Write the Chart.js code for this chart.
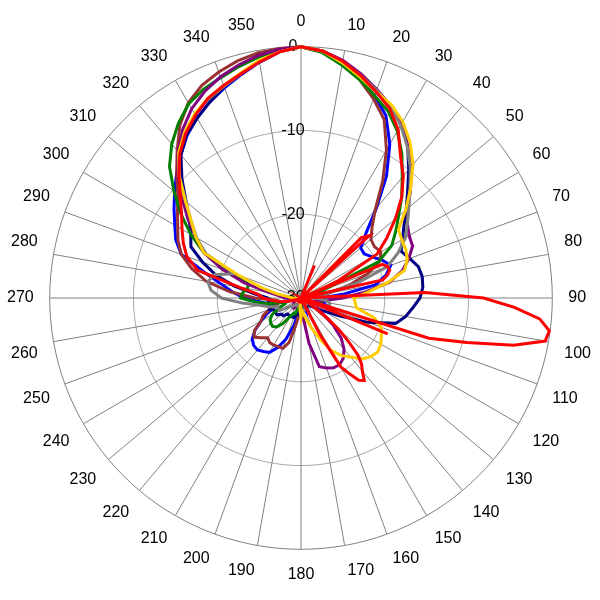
<!DOCTYPE html>
<html>
<head>
<meta charset="utf-8">
<script src="https://cdn.jsdelivr.net/npm/chart.js@4.4.0/dist/chart.umd.min.js"></script>
<style>
  html, body { margin: 0; padding: 0; background: #fff; }
</style>
</head>
<body>
<canvas id="pattern" width="600" height="600"></canvas>
<script>
// 2.5 degree steps, labels shown every 10 degrees
const angles = Array.from({length: 144}, (_, i) => i * 2.5);

// gain in dB, one value every 5 degrees (0..355)
const navy = [
  0, -0.4, -1.3, -2.4, -3.6, -4.7, -5.9, -7.8, -10, -12, -13.6, -15,
  -16, -16.8, -16.2, -15.5, -15.3, -15.4, -15.8, -16.6, -17.3, -18.3, -21.5, -25,
  -27, -28, -28.5, -29, -29, -29, -28.5, -29, -29, -29, -29, -29,
  -29, -28.5, -28, -28, -27.5, -27.5, -27.5, -27.5, -27.5, -27, -27, -26.5,
  -26.5, -26.5, -26, -26.5, -25.5, -26.5, -26, -24.5, -22, -19.5, -17.5, -15.5,
  -14.8, -13.7, -12.1, -9.9, -7.7, -6.2, -5.2, -4.2, -3.2, -2.3, -1.4, -0.5
];
const blue = [
  0, -0.5, -1.5, -2.8, -4.3, -6, -8.8, -12.2, -16, -19, -20.7, -20.8,
  -20.2, -19.3, -18.6, -19.5, -21, -25, -27.5, -28, -27.5, -27, -27.5, -28,
  -28.5, -29, -29, -29, -29, -29, -29, -29, -28.5, -29, -29, -29,
  -28.5, -28.5, -28, -26.5, -24.8, -23.5, -22.5, -22.2, -21.9, -22, -22.4, -23.3,
  -24.5, -25.5, -26.5, -27, -26, -25, -23.2, -21.8, -20.3, -18, -14.8, -13.5,
  -12.6, -11.5, -10.3, -9.0, -7.7, -6.3, -5.2, -4.2, -3.3, -2.4, -1.4, -0.5
];
const brown = [
  0, -0.5, -1.6, -3, -4.7, -6.5, -9.6, -13, -16.2, -18, -19.1, -19.3,
  -19, -19.6, -21.5, -24, -26.5, -28, -29, -29, -29, -29, -29, -29,
  -29, -29, -29, -29, -29, -29, -29, -29, -29, -29, -29, -29,
  -29, -28.5, -27, -24.5, -23.6, -23.6, -23.5, -23.5, -23.8, -23.3, -22.7, -23.2,
  -24.5, -25, -26, -27, -27.5, -27, -24.5, -21.5, -18.5, -16.5, -14.8, -13.8,
  -13, -12, -10.8, -9, -7, -4.8, -3.1, -2.0, -1.3, -0.7, -0.3, -0.1
];
const green = [
  0, -0.6, -1.8, -3, -4.3, -5.4, -7, -9, -11.2, -13, -14.8, -16.2,
  -17.5, -19.8, -27, -28, -28.5, -28.5, -28, -27.5, -27.5, -28, -29, -29,
  -29, -29, -29, -29, -29, -29, -29, -29, -29, -29, -29, -29,
  -29, -29, -29, -29, -28, -28, -27.5, -26.3, -25.5, -25.2, -25.3, -25.5,
  -26, -27, -28, -28, -26, -24.5, -22.8, -23, -23.5, -23.5, -20.5, -17.2,
  -14.8, -12.5, -10.2, -7.8, -6, -4.5, -3.2, -2.5, -2.0, -1.4, -0.8, -0.3
];
const purple = [
  0, -0.4, -1.2, -2.3, -3.5, -4.7, -6.1, -7.8, -9.6, -11.5, -13.3, -14.5,
  -15.1, -15.3, -16.3, -17.5, -19.3, -22.5, -25, -27, -28, -28.5, -28.5, -28.5,
  -28.5, -27, -25, -23.2, -22, -21.2, -20.8, -20.8, -21.1, -21.5, -24.5, -28,
  -29, -29, -29, -29, -29, -29, -29, -28.5, -28.5, -28.5, -29, -29,
  -29, -29, -29, -29, -29, -29, -28, -27.5, -26, -23, -20, -17.2,
  -15.5, -13.5, -11.5, -9.2, -7.2, -5.4, -3.9, -2.8, -1.9, -1.2, -0.6, -0.2
];
const gray = [
  0, -0.4, -1.4, -2.5, -3.6, -4.8, -6.2, -7.9, -9.7, -11.6, -13.2, -14.5,
  -15.6, -17.2, -19, -23, -27, -28, -28.5, -27, -26.5, -26.5, -27, -28,
  -29, -29, -29, -29, -29, -29, -29, -29, -28.5, -28.5, -28.5, -28.5,
  -28.5, -29, -29, -29, -29, -29, -29, -29, -29, -28.5, -28.5, -28,
  -27, -27, -27, -26, -25, -23, -20.5, -19.2, -18.7, -19.3, -21.5, -17.5,
  -15.6, -14, -12, -9.5, -7.4, -5.9, -4.7, -3.8, -3.1, -2.3, -1.3, -0.5
];
const yellow = [
  0, -0.4, -1.5, -2.7, -3.8, -4.5, -5.7, -7.3, -9.2, -11.5, -13.7, -15.8,
  -16.1, -16.2, -16.5, -17.2, -19.5, -22, -23.7, -23.5, -23.3, -21, -19.8, -19.4,
  -19, -18.8, -19.1, -19.7, -20.8, -21.6, -22.8, -24.5, -26, -27.2, -28, -28.5,
  -27.7, -28.5, -29.5, -29.5, -29.5, -29.5, -29.5, -29.5, -29.5, -29.5, -29.5, -29.5,
  -29.5, -29.5, -29.5, -29.5, -29.5, -29.5, -29, -28.5, -27, -25, -22, -17.2,
  -15.5, -14, -12, -9.4, -7.3, -5.8, -4.6, -3.7, -3.0, -2.2, -1.2, -0.5
];
const red = [
  0, -0.4, -1.3, -2.5, -3.8, -5, -6.8, -9.3, -11, -13, -15.3, -17.5,
  -19.5, -25, -29, -29.5, -29.5, -29.5, -29.5, -29.5, -29.5, -29.5, -29.5, -29.5,
  -29.5, -29.5, -29.5, -29.5, -29.5, -29.5, -29.5, -29.5, -29.5, -29.5, -29.5, -29.5,
  -29.5, -29.5, -29.5, -29.5, -29.5, -29.5, -29.5, -29.5, -29.5, -29.5, -29.5, -29.5,
  -29.5, -29.5, -29.5, -28.5, -27.5, -26.5, -25.5, -24.8, -22.5, -17.2, -15.5, -14.5,
  -13.6, -12.6, -11.2, -9.4, -7.5, -6, -4.8, -3.7, -3.0, -2.3, -1.4, -0.5
];
// second red trace, one value every 2.5 degrees (0..357.5)
const redSide = [
  -30, -30, -30, -30, -30, -30, -30, -30, -30, -25.8, -30, -30,
  -30, -30, -30, -30, -30, -30, -19.8, -19, -30, -30, -30, -30,
  -30, -30, -30, -19.5, -19, -18.9, -19.3, -20, -30, -30, -30, -15.2,
  -8.2, -4.5, -1.4, -0.1, -0.4, -4, -9.5, -14, -30, -18.8, -30, -30,
  -30, -30, -28, -26, -24, -22.3, -20.4, -19.3, -18.6, -17.6, -18, -19.3,
  -20.5, -25, -30, -30, -30, -30, -30, -30, -30, -30, -30, -30,
  -30, -30, -30, -30, -30, -30, -30, -30, -30, -30, -30, -30,
  -30, -30, -30, -30, -30, -30, -30, -30, -30, -30, -30, -30,
  -30, -30, -30, -30, -30, -30, -30, -30, -30, -30, -30, -30,
  -30, -30, -30, -30, -30, -30, -30, -30, -30, -30, -30, -30,
  -30, -30, -30, -30, -30, -30, -30, -30, -30, -30, -30, -30,
  -30, -30, -30, -30, -30, -30, -30, -30, -30, -30, -30, -30
];

// put a coarse series on the 2.5 degree grid, gaps are bridged by spanGaps
function spread(values) {
  const step = angles.length / values.length;
  const out = [];
  values.forEach(v => {
    out.push(v);
    for (let k = 1; k < step; k++) out.push(null);
  });
  return out;
}

function trace(data, color) {
  return {
    data: data.length === angles.length ? data : spread(data),
    borderColor: color,
    backgroundColor: color,
    borderWidth: 3,
    pointRadius: 0,
    fill: false,
    spanGaps: true,
    tension: 0
  };
}

const font = {family: "'Liberation Sans', Arial, sans-serif", size: 16};

new Chart(document.getElementById('pattern'), {
  type: 'radar',
  data: {
    labels: angles,
    datasets: [
      trace(redSide, '#ff0000'),
      trace(red, '#ff0000'),
      trace(yellow, '#ffcc00'),
      trace(gray, '#808080'),
      trace(purple, '#800080'),
      trace(green, '#008000'),
      trace(navy, '#000080'),
      trace(brown, '#993333'),
      trace(blue, '#0000ff')
    ]
  },
  options: {
    responsive: false,
    animation: false,
    devicePixelRatio: 1,
    layout: {padding: {left: 6, right: 6, top: 0, bottom: 2}},
    plugins: {legend: {display: false}, tooltip: {enabled: false}},
    scales: {
      r: {
        min: -30,
        max: 0,
        ticks: {
          stepSize: 10,
          color: '#000',
          font: font,
          showLabelBackdrop: false,
          // trailing spaces push the value text just left of the 0 degree line
          callback: (v) => v + '\u2002\u2002'
        },
        grid: {
          color: (ctx) => ctx.tick && ctx.tick.value === 0 ? '#808080' : '#a8a8a8',
          lineWidth: 1
        },
        angleLines: {
          color: '#808080',
          lineWidth: (ctx) => ctx.index % 4 === 0 ? 1 : 0
        },
        pointLabels: {
          color: '#000',
          font: font,
          padding: 6,
          callback: (label, i) => i % 4 === 0 ? String(label) : ''
        }
      }
    }
  }
});
</script>
</body>
</html>
